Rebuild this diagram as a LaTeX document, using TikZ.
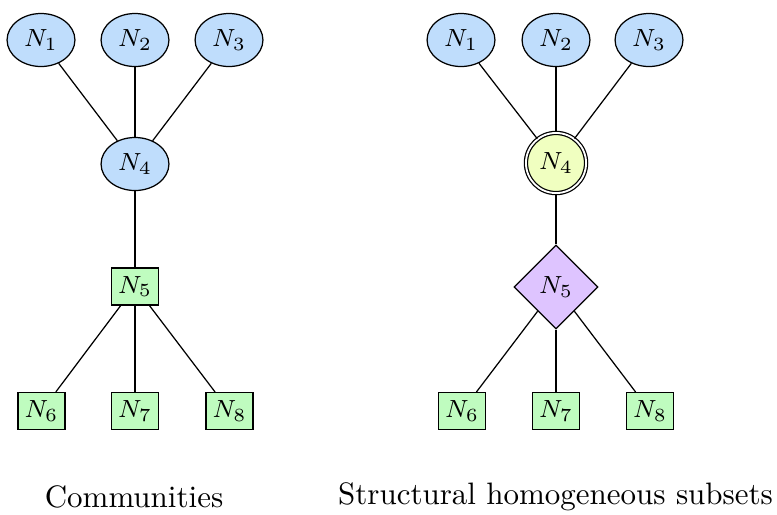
\documentclass[tikz,border=0pt]{standalone}
\usetikzlibrary{shapes.geometric}
\definecolor{nblue}{RGB}{191,221,252}
\definecolor{ngreen}{RGB}{191,252,191}
\definecolor{nyellow}{RGB}{240,255,192}
\definecolor{npurple}{RGB}{222,196,255}
\tikzset{
  nodefont/.style={font=\fontsize{8.4}{10}\selectfont},
  ellnode/.style={ellipse, draw, fill=nblue, inner sep=0pt, minimum width=21.9pt, minimum height=17.1pt, nodefont},
  sqnode/.style={rectangle, draw, fill=ngreen, inner sep=0pt, minimum width=15.2pt, minimum height=11.9pt, nodefont},
  dblnode/.style={circle, draw, double, double distance=0.6pt, fill=nyellow, inner sep=0pt, minimum size=19.4pt, nodefont},
  dianode/.style={diamond, draw, fill=npurple, inner sep=0pt, minimum width=27.1pt, minimum height=27.1pt, nodefont},
  link/.style={draw, line width=0.4pt},
  captext/.style={font=\normalsize}
}
\begin{document}
\begin{tikzpicture}[x=0.3226pt,y=-0.3226pt]
\useasboundingbox (0,0) rectangle (777,514);
% left: Communities
\node[ellnode] (a1) at (41,40) {$N_1$};
\node[ellnode] (a2) at (135,40) {$N_2$};
\node[ellnode] (a3) at (229,40) {$N_3$};
\node[ellnode] (a4) at (135,164) {$N_4$};
\node[sqnode] (a5) at (135,286.5) {$N_5$};
\node[sqnode] (a6) at (41.5,411) {$N_6$};
\node[sqnode] (a7) at (135,411) {$N_7$};
\node[sqnode] (a8) at (229.5,411) {$N_8$};
\draw[link] (a1) -- (a4);
\draw[link] (a2) -- (a4);
\draw[link] (a3) -- (a4);
\draw[link] (a4) -- (a5);
\draw[link] (a5) -- (a6);
\draw[link] (a5) -- (a7);
\draw[link] (a5) -- (a8);
\node[captext] (c1) at (134,497) {Communities};
% right: Structural homogeneous subsets
\node[ellnode] (b1) at (461,40) {$N_1$};
\node[ellnode] (b2) at (556,40) {$N_2$};
\node[ellnode] (b3) at (649,40) {$N_3$};
\node[dblnode] (b4) at (556,163) {$N_4$};
\node[dianode] (b5) at (556,287) {$N_5$};
\node[sqnode] (b6) at (462,411) {$N_6$};
\node[sqnode] (b7) at (556,411) {$N_7$};
\node[sqnode] (b8) at (650,411) {$N_8$};
\draw[link] (b1) -- (b4);
\draw[link] (b2) -- (b4);
\draw[link] (b3) -- (b4);
\draw[link] (b4) -- (b5);
\draw[link] (b5) -- (b6);
\draw[link] (b5) -- (b7);
\draw[link] (b5) -- (b8);
\node[captext] (c2) at (555.5,497) {Structural homogeneous subsets};
\end{tikzpicture}
\end{document}
